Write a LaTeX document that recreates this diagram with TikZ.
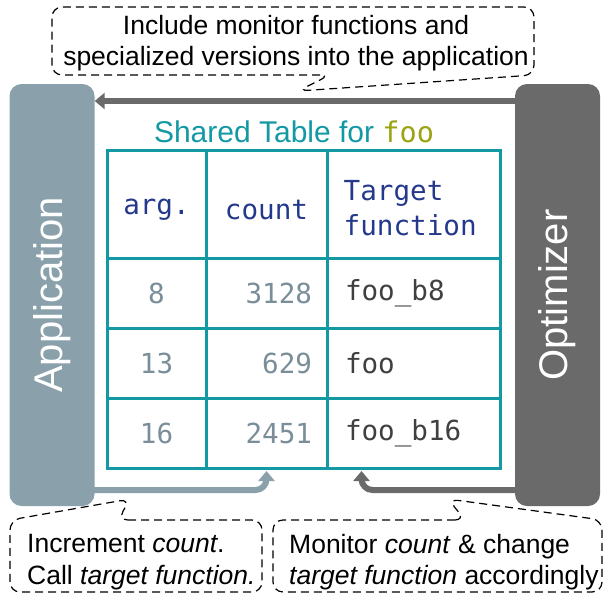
\documentclass[tikz,border=0pt]{standalone}
\usepackage{fontspec}
\setmainfont{Liberation Sans}
\newfontfamily\monof{DejaVu Sans Mono}
\usetikzlibrary{arrows.meta,calc}
\definecolor{appc}{HTML}{8AA1AC}
\definecolor{optc}{HTML}{6A6A6A}
\definecolor{tealc}{HTML}{1399A4}
\definecolor{olivec}{HTML}{9AA312}
\definecolor{hdrc}{HTML}{24398C}
\definecolor{numc}{HTML}{7A8E99}
\definecolor{fnc}{HTML}{404040}
\begin{document}
\begin{tikzpicture}[x=1pt,y=-1pt,
  bar/.style={rounded corners=12pt, minimum width=85pt, minimum height=422pt, inner sep=0pt},
  barlabel/.style={text=white, font=\fontsize{40}{48}\selectfont, rotate=90, inner sep=0pt},
  monotext/.style={font=\monof\fontsize{27.6}{35}\selectfont},
  cell/.style={draw=tealc, line width=3pt, inner ysep=0pt, minimum height=70pt, monotext},
  hdr/.style={cell, minimum height=108pt},
  hdrtext/.style={monotext, text=hdrc, inner sep=0pt},
  numcell/.style={cell, text=numc},
  fncell/.style={cell, text=fnc},
  callout/.style={draw=black, line width=1.2pt, dash pattern=on 8pt off 5pt, rounded corners=10pt},
  calltext/.style={font=\fontsize{26.5}{31.5}\selectfont, inner sep=0pt},
  flow/.style={line width=6pt, -{Triangle[width=16pt,length=10pt]}},
]
\useasboundingbox (0,0) rectangle (605,595);

% side bars
\node[bar, fill=appc] (app) at (52,295) {};
\node[barlabel] (applabel) at (app.center) {Application};
\node[bar, fill=optc] (opt) at (557.5,295) {};
\node[barlabel] (optlabel) at (opt.center) {Optimizer};

% title
\node[font=\fontsize{30}{36}\selectfont, text=tealc, inner sep=0pt] (title) at (294,132)
  {Shared Table for {\monof\fontsize{28.5}{30}\selectfont\color{olivec}foo}};

% table header
\node[hdr, minimum width=99pt, inner xsep=0pt] (c11) at (156.5,204) {};
\node[hdr, minimum width=121pt, inner xsep=0pt] (c12) at (266.5,204) {};
\node[hdr, minimum width=173pt, inner xsep=0pt] (c13) at (413.5,204) {};
\node[hdrtext] (h1) at ($(c11.center)+(0,6)$) {arg.};
\node[hdrtext] (h2) at ($(c12.center)+(0,6)$) {count};
\node[hdrtext, anchor=west, align=left] (h3) at ($(c13.west)+(18,4)$) {Target\\function};
% rows
\node[numcell, minimum width=99pt, inner xsep=0pt] (c21) at (156.5,293) {8};
\node[numcell, inner xsep=15pt, text width=91pt, align=right] (c22) at (266.5,293) {3128};
\node[fncell, inner xsep=18pt, text width=137pt, align=left] (c23) at (413.5,293) {foo\_b8};
\node[numcell, minimum width=99pt, inner xsep=0pt] (c31) at (156.5,363) {13};
\node[numcell, inner xsep=15pt, text width=91pt, align=right] (c32) at (266.5,363) {629};
\node[fncell, inner xsep=18pt, text width=137pt, align=left] (c33) at (413.5,363) {foo};
\node[numcell, minimum width=99pt, inner xsep=0pt] (c41) at (156.5,433) {16};
\node[numcell, inner xsep=15pt, text width=91pt, align=right] (c42) at (266.5,433) {2451};
\node[fncell, inner xsep=18pt, text width=137pt, align=left] (c43) at (413.5,433) {foo\_b16};

% connectors
\coordinate (ytop) at (0,101);
\coordinate (ybot) at (0,490);
\draw[flow, optc] (opt.west |- ytop) -- (app.east |- ytop);
\draw[flow, appc, rounded corners=11pt] ($(app.east |- ybot)+(-4,0)$) -| ($(c42.south)+(0,1.5)$);
\draw[flow, optc, rounded corners=11pt] ($(opt.west |- ybot)+(4,0)$) -| ($(c43.south west)+(36,1.5)$);

% callouts
\draw[callout] (330,75) -- (52,75) -- (52,7) -- (534,7) -- (534,75) -- (298,91) -- cycle;
\node[calltext, align=center] (topnote) at (296,43)
  {Include monitor functions and\\specialized versions into the application};

\draw[callout] (118,520) -- (262,520) -- (262,592) -- (10,592) -- (10,520) -- (130,499) -- cycle;
\node[calltext, align=left, anchor=west] (leftnote) at (27,562)
  {Increment \textit{count}.\\Call \textit{target function.}};

\draw[callout] (465,520) -- (273,520) -- (273,592) -- (602,592) -- (602,520) -- (448,499) -- cycle;
\node[calltext, align=left, anchor=west] (rightnote) at (289,562)
  {Monitor \textit{count} \& change\\\textit{target function} accordingly};
\end{tikzpicture}
\end{document}
